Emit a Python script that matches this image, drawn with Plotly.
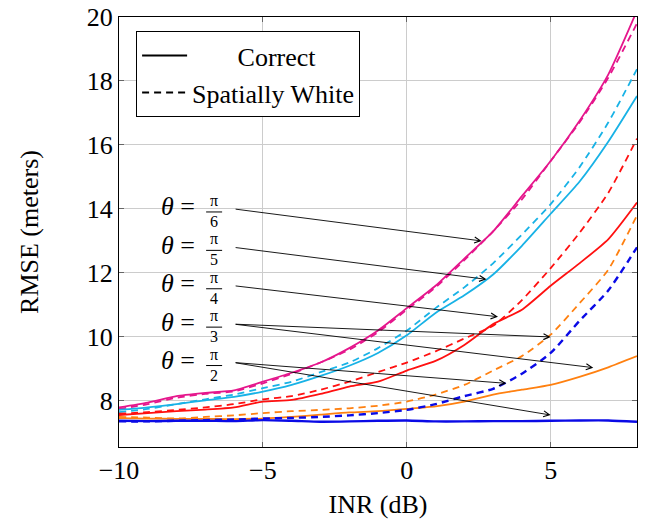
import plotly.graph_objects as go

# ---------------- data ----------------
inr = [-10, -9, -8, -7, -6, -5, -4, -3, -2, -1, 0, 1, 2, 3, 4, 5, 6, 7, 8]

pink_correct = [7.80, 7.95, 8.15, 8.25, 8.33, 8.60, 8.88, 9.20, 9.65, 10.20, 10.90, 11.60, 12.45, 13.30, 14.40, 15.50, 16.75, 18.20, 20.20]
pink_white   = [7.75, 7.90, 8.10, 8.22, 8.30, 8.55, 8.85, 9.20, 9.60, 10.15, 10.85, 11.55, 12.40, 13.30, 14.30, 15.50, 16.70, 18.10, 19.80]

cyan_correct = [7.72, 7.80, 7.90, 8.02, 8.13, 8.29, 8.50, 8.78, 9.10, 9.50, 10.05, 10.75, 11.30, 11.95, 12.85, 13.85, 14.85, 16.10, 17.53]
cyan_white   = [7.65, 7.75, 7.90, 8.05, 8.20, 8.40, 8.60, 8.90, 9.20, 9.65, 10.20, 10.90, 11.55, 12.30, 13.20, 14.15, 15.30, 16.70, 18.37]

red_correct = [7.56, 7.62, 7.68, 7.73, 7.80, 7.98, 8.03, 8.22, 8.45, 8.60, 8.95, 9.25, 9.75, 10.40, 10.85, 11.60, 12.30, 13.05, 14.20]
red_white   = [7.60, 7.65, 7.72, 7.80, 7.90, 8.05, 8.15, 8.35, 8.60, 8.90, 9.20, 9.55, 9.95, 10.35, 11.15, 12.15, 13.25, 14.50, 16.20]

orange_correct = [7.46, 7.45, 7.44, 7.44, 7.43, 7.45, 7.50, 7.57, 7.64, 7.68, 7.75, 7.83, 7.98, 8.20, 8.35, 8.50, 8.75, 9.05, 9.40]
orange_white   = [7.50, 7.48, 7.45, 7.50, 7.55, 7.62, 7.68, 7.72, 7.77, 7.85, 7.98, 8.20, 8.50, 8.95, 9.40, 10.07, 11.05, 12.10, 13.80]

blue_correct = [7.38, 7.37, 7.38, 7.38, 7.37, 7.40, 7.38, 7.35, 7.36, 7.38, 7.39, 7.36, 7.36, 7.37, 7.37, 7.38, 7.39, 7.39, 7.35]
blue_white   = [7.36, 7.36, 7.38, 7.40, 7.42, 7.45, 7.47, 7.50, 7.55, 7.62, 7.72, 7.90, 8.15, 8.38, 8.85, 9.50, 10.50, 11.45, 12.80]

x_ticks = [-10, -5, 0, 5]
x_ticklabels = ["\u221210", "\u22125", "0", "5"]
y_ticks = [8, 10, 12, 14, 16, 18, 20]

# theta labels: denominators, label anchor (arrow start) and arrow targets
theta_den = ["6", "5", "4", "3", "2"]
label_x = -6.0
label_y = [14.0, 12.8, 11.6, 10.4, 9.2]
arrow_targets = [
    [(2.6, 13.0)],
    [(2.77, 11.8)],
    [(3.17, 10.63)],
    [(5.0, 10.0), (6.48, 9.04)],
    [(3.46, 8.55), (5.0, 7.56)],
]

# ---------------- styling ----------------
PINK = "#E5168C"
CYAN = "#18B2E6"
RED = "#FF1010"
ORANGE = "#FF8010"
BLUE = "#0A0AE6"
FONT = "Liberation Serif, Times New Roman, DejaVu Serif, serif"
DASH = "7px,5px"

series = [
    (pink_correct, pink_white, PINK, 1.8),
    (cyan_correct, cyan_white, CYAN, 1.8),
    (red_correct, red_white, RED, 1.8),
    (orange_correct, orange_white, ORANGE, 1.8),
    (blue_correct, blue_white, BLUE, 2.4),
]

fig = go.Figure()
for sol, dsh, col, w in series:
    fig.add_trace(go.Scatter(x=inr, y=dsh, mode="lines", showlegend=False,
                             line=dict(color=col, width=w, dash=DASH, shape="spline", smoothing=0.6)))
    fig.add_trace(go.Scatter(x=inr, y=sol, mode="lines", showlegend=False,
                             line=dict(color=col, width=w, shape="spline", smoothing=0.6)))

# legend entries
nb = "\u00a0"
fig.add_trace(go.Scatter(x=[None], y=[None], mode="lines", name=nb * 7 + "Correct",
                         line=dict(color="black", width=2)))
fig.add_trace(go.Scatter(x=[None], y=[None], mode="lines", name="Spatially White",
                         line=dict(color="black", width=2, dash="7px,5px")))

annotations = []
shapes = []
for den, ly, targets in zip(theta_den, label_y, arrow_targets):
    annotations.append(dict(x=label_x, y=ly, xref="x", yref="y", text="<i>θ</i> =",
                            showarrow=False, xanchor="right", yanchor="middle",
                            xshift=-37, yshift=2, font=dict(family=FONT, size=26, color="black")))
    annotations.append(dict(x=label_x, y=ly, xref="x", yref="y", text="π<br>" + den,
                            showarrow=False, xanchor="center", yanchor="middle", align="center",
                            xshift=-20, yshift=-2, font=dict(family=FONT, size=16, color="black")))
    shapes.append(dict(type="line", xref="x", yref="y", xsizemode="pixel", ysizemode="pixel",
                       xanchor=label_x, yanchor=ly, x0=-28, x1=-12, y0=-3, y1=-3,
                       line=dict(color="black", width=1)))
    for tx, ty in targets:
        annotations.append(dict(x=tx, y=ty, xref="x", yref="y", ax=label_x, ay=ly,
                                axref="x", ayref="y", text="", showarrow=True,
                                arrowhead=5, arrowsize=1.3, arrowwidth=0.9,
                                arrowcolor="black", standoff=0, startstandoff=0))

fig.update_layout(
    width=653, height=519,
    margin=dict(l=119, r=16, t=17, b=72),
    paper_bgcolor="white", plot_bgcolor="white",
    font=dict(family=FONT, size=26, color="black"),
    showlegend=True,
    legend=dict(x=0.033, y=0.967, xanchor="left", yanchor="top",
                bgcolor="white", bordercolor="black", borderwidth=1,
                font=dict(family=FONT, size=26, color="black"),
                itemwidth=45, tracegroupgap=0),
    annotations=annotations,
    shapes=shapes,
)
fig.update_xaxes(range=[-10, 8], tickvals=x_ticks, ticktext=x_ticklabels,
                 showgrid=True, gridcolor="#cccccc", gridwidth=1,
                 showline=True, linecolor="black", linewidth=1.2, mirror="ticks",
                 ticks="inside", ticklen=5, tickcolor="#666666", tickwidth=1,
                 zeroline=False, automargin=False, ticklabeloverflow="allow",
                 tickfont=dict(family=FONT, size=26),
                 title=dict(text="INR (dB)", font=dict(family=FONT, size=26), standoff=12))
fig.update_yaxes(range=[6.56, 20], tickvals=y_ticks,
                 showgrid=True, gridcolor="#cccccc", gridwidth=1,
                 showline=True, linecolor="black", linewidth=1.2, mirror="ticks",
                 ticks="inside", ticklen=5, tickcolor="#666666", tickwidth=1,
                 zeroline=False, automargin=False, ticklabeloverflow="allow",
                 tickfont=dict(family=FONT, size=26),
                 title=dict(text="RMSE (meters)", font=dict(family=FONT, size=26), standoff=40))

fig.write_html("out.html", config={"displayModeBar": False},
               post_script="document.body.style.margin='0px';document.body.style.padding='0px';")
